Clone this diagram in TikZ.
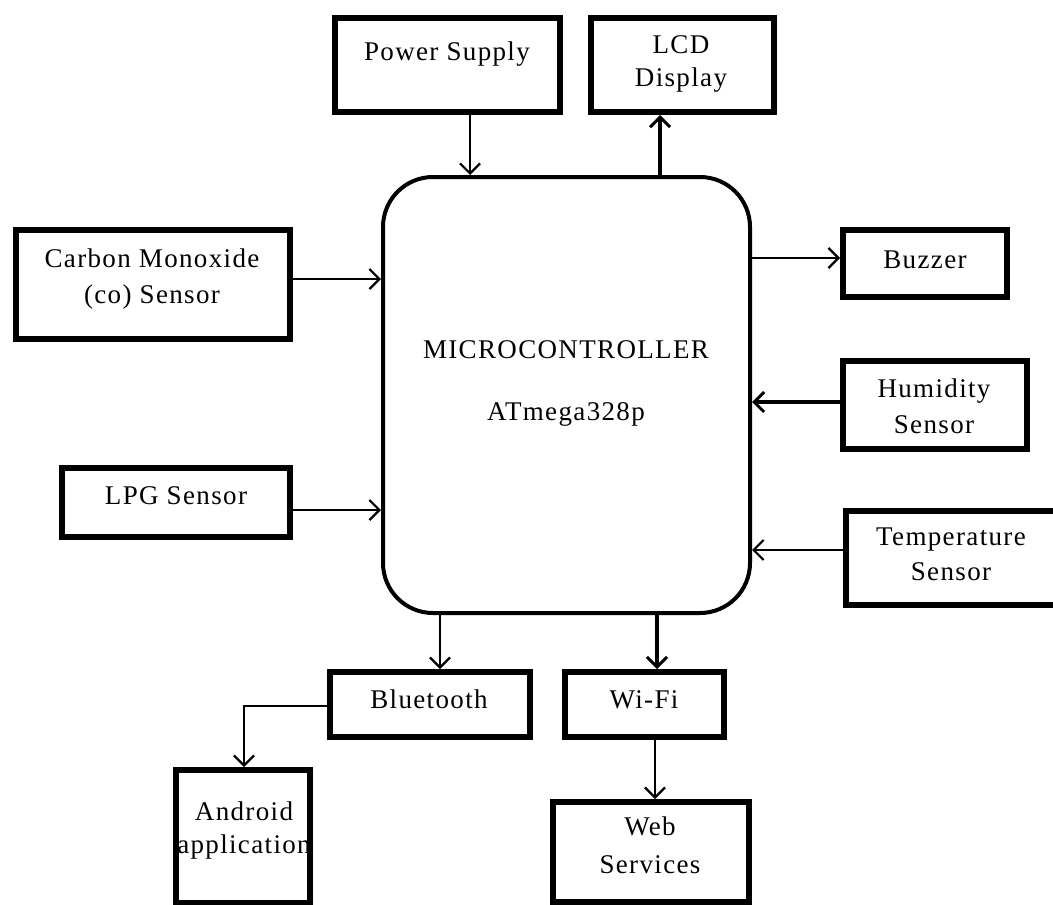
\documentclass[tikz,border=0pt]{standalone}
\usepackage{fontspec}
\setmainfont{Liberation Serif}[LetterSpace=5]
\usetikzlibrary{arrows.meta}
\begin{document}
\begin{tikzpicture}[x=1pt,y=-1pt,
  box/.style={draw, line width=6pt, rectangle, inner sep=0pt},
  txt/.style={font=\fontsize{27}{36}\selectfont, anchor=base, inner sep=0pt},
  arr/.style={line width=2pt, -{Straight Barb[length=10pt,width=20pt,line width=2.2pt]}},
  arrt/.style={line width=3.5pt, -{Straight Barb[length=10pt,width=20pt,line width=3pt]}}]
\useasboundingbox (0,0) rectangle (1053,905);
% boxes (line centres)
\node[box, minimum width=225pt, minimum height=94pt] (ps) at (447.5,65) {};
\node[box, minimum width=183pt, minimum height=94pt] (lcd) at (682.5,65) {};
\node[draw, line width=4pt, rounded corners=50pt, minimum width=367pt, minimum height=436pt, inner sep=0pt] (mcu) at (566.5,395) {};
\node[box, minimum width=274pt, minimum height=109pt] (co) at (153,284.5) {};
\node[box, minimum width=228pt, minimum height=69pt] (lpg) at (176,502.5) {};
\node[box, minimum width=164pt, minimum height=67pt] (buz) at (925,263.5) {};
\node[box, minimum width=184pt, minimum height=88pt] (hum) at (935,405) {};
\node[box, minimum width=214pt, minimum height=94pt] (tem) at (953,558) {};
\node[box, minimum width=200pt, minimum height=65pt] (bt) at (430,704.5) {};
\node[box, minimum width=159pt, minimum height=65pt] (wifi) at (644.5,704.5) {};
\node[box, minimum width=134pt, minimum height=133pt] (and) at (243,836.5) {};
\node[box, minimum width=196pt, minimum height=100pt] (web) at (651,852) {};
% texts
\node[txt] (psT) at (447,60) {Power Supply};
\node[txt] (lcdT1) at (681,53) {LCD};
\node[txt] (lcdT2) at (681,86) {Display};
\node[txt] (mcuT1) at (566,358) {MICROCONTROLLER};
\node[txt] (mcuT2) at (566,420) {ATmega328p};
\node[txt] (coT1) at (152,267) {Carbon Monoxide};
\node[txt] (coT2) at (152,303) {(co) Sensor};
\node[txt] (lpgT) at (176,504) {LPG Sensor};
\node[txt] (buzT) at (925,268) {Buzzer};
\node[txt] (humT1) at (934,397) {Humidity};
\node[txt] (humT2) at (934,433) {Sensor};
\node[txt] (temT1) at (951,545) {Temperature};
\node[txt] (temT2) at (951,580) {Sensor};
\node[txt] (btT) at (429,708) {Bluetooth};
\node[txt] (wifiT) at (644,708) {Wi-Fi};
\node[txt] (andT1) at (244,820) {Android};
\node[txt] (andT2) at (244,853) {application};
\node[txt] (webT1) at (650,835) {Web};
\node[txt] (webT2) at (650,873) {Services};
% connector guide coordinates
\coordinate (xps) at (470,0);
\coordinate (xlcd) at (660,0);
\coordinate (xbt) at (440,0);
\coordinate (xwf) at (657,0);
\coordinate (xweb) at (655,0);
\coordinate (yco) at (0,279);
\coordinate (ylpg) at (0,510);
\coordinate (ybuz) at (0,258);
\coordinate (yhum) at (0,402);
\coordinate (ytem) at (0,550);
\coordinate (ybta) at (0,706);
\coordinate (bend) at (244,706);
% connectors
\draw[arr] (ps.south -| xps) -- (mcu.north -| xps);
\draw[arrt] (mcu.north -| xlcd) -- (lcd.south -| xlcd);
\draw[arr] (co.east |- yco) -- (mcu.west |- yco);
\draw[arr] (lpg.east |- ylpg) -- (mcu.west |- ylpg);
\draw[arr] (mcu.east |- ybuz) -- (buz.west |- ybuz);
\draw[arrt] (hum.west |- yhum) -- (mcu.east |- yhum);
\draw[arr] (tem.west |- ytem) -- (mcu.east |- ytem);
\draw[arr] (mcu.south -| xbt) -- (bt.north -| xbt);
\draw[arrt] (mcu.south -| xwf) -- (wifi.north -| xwf);
\draw[arr] (bt.west |- ybta) -- (bend) -- (and.north -| bend);
\draw[arr, line width=2.5pt] (wifi.south -| xweb) -- (web.north -| xweb);
\end{tikzpicture}
\end{document}
